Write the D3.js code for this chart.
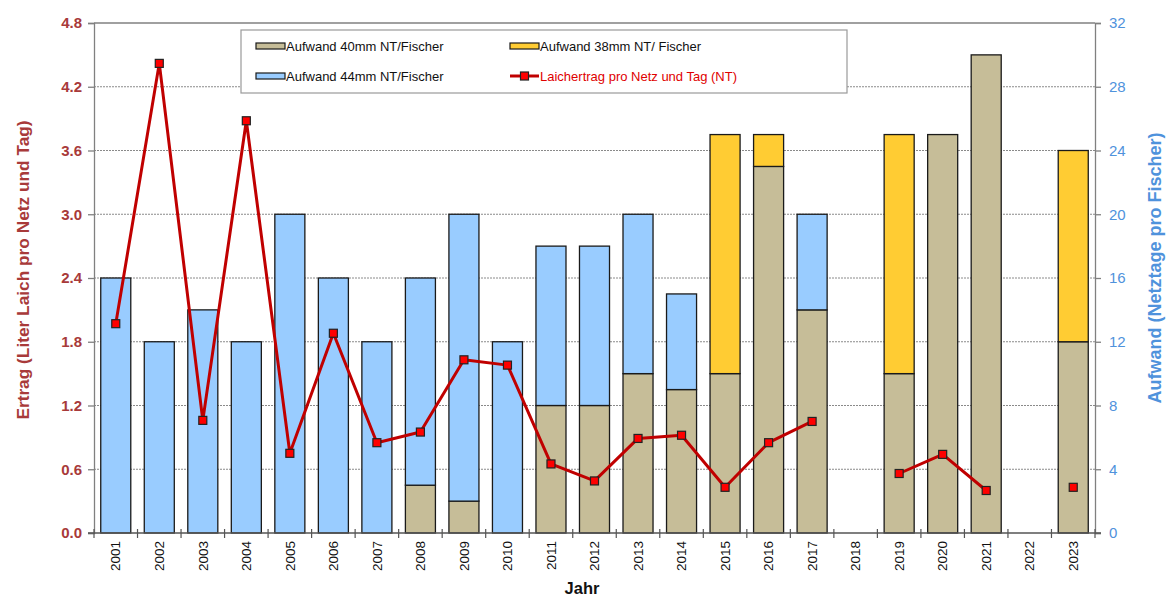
<!DOCTYPE html>
<html>
<head>
<meta charset="utf-8">
<script src="https://cdn.jsdelivr.net/npm/d3@7"></script>
<style>
  html, body { margin: 0; padding: 0; background: #fff; }
  svg { display: block; font-family: Arial, "Liberation Sans", sans-serif; }
</style>
</head>
<body>
<svg id="chart" width="1168" height="597"></svg>
<script>
// Jahre
const years = ["2001","2002","2003","2004","2005","2006","2007","2008","2009","2010","2011","2012",
               "2013","2014","2015","2016","2017","2018","2019","2020","2021","2022","2023"];
// Aufwand (Netztage pro Fischer) je Maschenweite
const aufwand40 = [0,0,0,0,0,0,0,3,2,0,8,8,10,9,10,23,14,0,10,25,30,0,12];
const aufwand44 = [16,12,14,12,20,16,12,13,18,12,10,10,10,6,0,0,6,0,0,0,0,0,0];
const aufwand38 = [0,0,0,0,0,0,0,0,0,0,0,0,0,0,15,2,0,0,15,0,0,0,12];
// Laichertrag pro Netz und Tag (Liter)
const ertrag = [1.97,4.42,1.06,3.88,0.75,1.88,0.85,0.95,1.63,1.58,0.65,0.49,0.89,0.92,0.43,0.85,1.05,null,0.56,0.74,0.40,null,0.43];
// Achsenticks
const leftTicks = [0,0.6,1.2,1.8,2.4,3.0,3.6,4.2,4.8];
const rightTicks = [0,4,8,12,16,20,24,28,32];

const seriesKeys = ["a40","a44","a38"];
const seriesColor = { a40: "#c6bd98", a44: "#99ccff", a38: "#ffcc33" };
const legendItems = [
  { key: "a40", label: "Aufwand 40mm NT/Fischer" },
  { key: "a38", label: "Aufwand 38mm NT/ Fischer" },
  { key: "a44", label: "Aufwand 44mm NT/Fischer" },
  { key: "line", label: "Laichertrag pro Netz und Tag (NT)" }
];

const rows = years.map((y, i) => ({ year: y, a40: aufwand40[i], a44: aufwand44[i], a38: aufwand38[i] }));

const plotL = 94, plotR = 1095, plotT = 23, plotB = 533;
const leftColor = "#a83a3a", rightColor = "#4f92dc", lineColor = "#c00000";

const svg = d3.select("#chart");

const x = d3.scaleBand().domain(years).range([plotL, plotR]).paddingInner(0.31).paddingOuter(0.155);
const yL = d3.scaleLinear().domain([0, 4.8]).range([plotB, plotT]);
const yR = d3.scaleLinear().domain([0, 32]).range([plotB, plotT]);

// gestrichelte Gitterlinien
svg.append("g").selectAll("line").data(leftTicks.filter(t => t > 0 && t < 4.8)).join("line")
  .attr("x1", plotL).attr("x2", plotR)
  .attr("y1", d => yL(d)).attr("y2", d => yL(d))
  .attr("stroke", "#8a8a8a").attr("stroke-width", 1).attr("stroke-dasharray", "2,1");

// gestapelte Säulen
const stacked = d3.stack().keys(seriesKeys)(rows);
svg.append("g").selectAll("g").data(stacked).join("g")
  .attr("fill", d => seriesColor[d.key])
  .selectAll("rect").data(d => d.filter(s => s[1] - s[0] > 0)).join("rect")
  .attr("x", d => x(d.data.year))
  .attr("width", x.bandwidth())
  .attr("y", d => yR(d[1]))
  .attr("height", d => yR(d[0]) - yR(d[1]))
  .attr("stroke", "#1a1a1a").attr("stroke-width", 1.3);

// Rahmen und Achsen
const axisColor = "#808080";
svg.append("line").attr("x1", plotL).attr("x2", plotR).attr("y1", plotT).attr("y2", plotT)
  .attr("stroke", axisColor).attr("stroke-width", 1.3);

const gL = svg.append("g").attr("transform", `translate(${plotL},0)`)
  .call(d3.axisLeft(yL).tickValues(leftTicks).tickFormat(d3.format(".1f")).tickSize(6).tickPadding(6));
gL.select(".domain").attr("stroke", axisColor).attr("stroke-width", 1.3);
gL.selectAll(".tick line").attr("stroke", axisColor).attr("stroke-width", 1.3);
gL.selectAll(".tick text").attr("fill", leftColor).attr("font-size", 15).attr("font-weight", "bold")
  .attr("font-family", "Arial, 'Liberation Sans', sans-serif");

const gR = svg.append("g").attr("transform", `translate(${plotR},0)`)
  .call(d3.axisRight(yR).tickValues(rightTicks).tickSize(6).tickPadding(8));
gR.select(".domain").attr("stroke", axisColor).attr("stroke-width", 1.3);
gR.selectAll(".tick line").attr("stroke", axisColor).attr("stroke-width", 1.3);
gR.selectAll(".tick text").attr("fill", rightColor).attr("font-size", 15)
  .attr("font-family", "Arial, 'Liberation Sans', sans-serif");

// x-Achse mit Ticks an den Kategoriegrenzen
const step = x.step();
const boundaries = years.map(y => x(y) - step * x.paddingInner() / 2).concat([plotR]);
const gB = svg.append("g");
gB.append("line").attr("x1", plotL - 6).attr("x2", plotR + 6).attr("y1", plotB).attr("y2", plotB)
  .attr("stroke", "#555").attr("stroke-width", 1.3);
gB.selectAll("line.tk").data(boundaries).join("line").attr("class", "tk")
  .attr("x1", d => d).attr("x2", d => d).attr("y1", plotB - 4).attr("y2", plotB + 5)
  .attr("stroke", "#555").attr("stroke-width", 1.2);
gB.selectAll("text").data(years).join("text")
  .attr("transform", d => `translate(${x(d) + x.bandwidth() / 2},541) rotate(-90)`)
  .attr("dy", "0.35em").attr("text-anchor", "end")
  .attr("font-size", 13.5).attr("fill", "#111").text(d => d);

// Laichertrag-Linie mit Markern
const pts = years.map((y, i) => ({ year: y, v: ertrag[i] }));
svg.append("path").datum(pts)
  .attr("fill", "none").attr("stroke", lineColor).attr("stroke-width", 3).attr("stroke-linejoin", "round")
  .attr("d", d3.line().defined(d => d.v != null)
    .x(d => x(d.year) + x.bandwidth() / 2).y(d => yL(d.v)));
svg.append("g").selectAll("rect").data(pts.filter(d => d.v != null)).join("rect")
  .attr("x", d => x(d.year) + x.bandwidth() / 2 - 4)
  .attr("y", d => yL(d.v) - 4)
  .attr("width", 8).attr("height", 8)
  .attr("fill", "#ff0000").attr("stroke", "#222").attr("stroke-width", 1.2);

// Legende
const lg = svg.append("g");
lg.append("rect").attr("x", 241).attr("y", 30).attr("width", 606).attr("height", 63)
  .attr("fill", "#fff").attr("stroke", "#9a9a9a").attr("stroke-width", 1.2);
const legPos = [[256, 46], [510, 46], [256, 76], [510, 76]];
legendItems.forEach((it, i) => {
  const [lx, ly] = legPos[i];
  const g = lg.append("g");
  if (it.key === "line") {
    g.append("line").attr("x1", lx).attr("x2", lx + 29).attr("y1", ly).attr("y2", ly)
      .attr("stroke", lineColor).attr("stroke-width", 3);
    g.append("rect").attr("x", lx + 10.5).attr("y", ly - 4).attr("width", 8).attr("height", 8)
      .attr("fill", "#ff0000").attr("stroke", "#222").attr("stroke-width", 1.2);
  } else {
    g.append("rect").attr("x", lx).attr("y", ly - 3).attr("width", 29).attr("height", 6)
      .attr("fill", seriesColor[it.key]).attr("stroke", "#1a1a1a").attr("stroke-width", 1.2);
  }
  g.append("text").attr("x", lx + 30).attr("y", ly).attr("dy", "0.35em")
    .attr("font-size", 13).attr("fill", it.key === "line" ? "#e00000" : "#111").text(it.label);
});

// Achsentitel
svg.append("text").attr("transform", "translate(23,270) rotate(-90)")
  .attr("dy", "0.35em").attr("text-anchor", "middle")
  .attr("font-size", 17.3).attr("font-weight", "bold").attr("fill", leftColor)
  .text("Ertrag (Liter Laich pro Netz und Tag)");
svg.append("text").attr("transform", "translate(1155,268) rotate(-90)")
  .attr("dy", "0.35em").attr("text-anchor", "middle")
  .attr("font-size", 18).attr("font-weight", "bold").attr("fill", rightColor)
  .text("Aufwand (Netztage pro Fischer)");
svg.append("text").attr("x", 582).attr("y", 594).attr("text-anchor", "middle")
  .attr("font-size", 16.5).attr("font-weight", "bold").attr("fill", "#111").text("Jahr");
</script>
</body>
</html>
